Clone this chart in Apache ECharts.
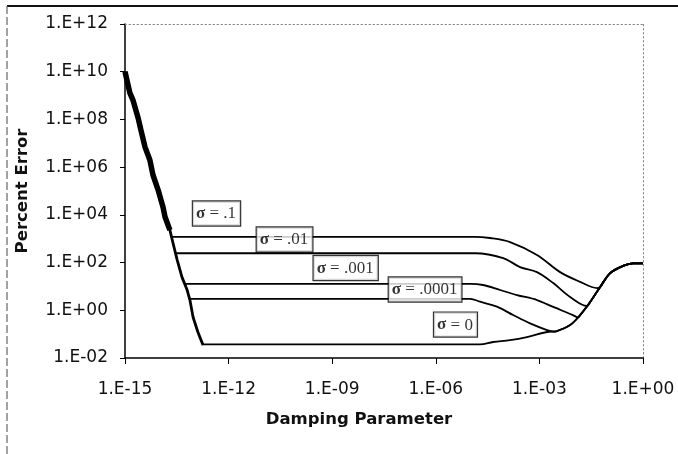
<!DOCTYPE html>
<html><head><meta charset="utf-8">
<script src="https://cdn.jsdelivr.net/npm/echarts@6/dist/echarts.min.js"></script>
<style>html,body{margin:0;padding:0;background:#fff}#c{width:678px;height:454px}</style>
</head><body><div id="c"></div>
<script>
// All values are log10 of the plotted quantities (Damping Parameter, Percent Error)
const xAxisTitle = 'Damping Parameter';
const yAxisTitle = 'Percent Error';

// common noisy descent
const descentX = [-15, -14.86, -14.77, -14.62, -14.54, -14.42, -14.28, -14.19, -14.04, -13.90, -13.84, -13.70, -13.61, -13.49, -13.35, -13.20, -13.12, -13.03, -12.89, -12.74];
const descentY = [10.0, 9.11, 8.81, 8.06, 7.56, 6.84, 6.30, 5.67, 5.04, 4.33, 3.91, 3.36, 2.82, 2.11, 1.39, 0.85, 0.43, -0.28, -0.91, -1.46];

// common rising tail (sigma = 0 after its plateau)
const riseX = [-4.72, -4.34, -3.85, -3.36, -2.78, -2.49, -2.11, -1.82, -1.53, -1.24, -0.95, -0.58, -0.29, 0];
const riseY = [-1.43, -1.33, -1.25, -1.12, -0.91, -0.87, -0.62, -0.20, 0.35, 0.98, 1.56, 1.86, 1.97, 1.97];

// individual parts up to the point where each curve joins the rising tail
const s1X = [-13.64, -4.90, -4.43, -3.85, -3.07, -2.40, -1.82, -1.33];
const s1Y = [3.08, 3.08, 3.03, 2.86, 2.32, 1.60, 1.19, 0.93];
const s2X = [-13.52, -4.86, -4.05, -3.56, -3.07, -2.60, -2.11, -1.62];
const s2Y = [2.39, 2.39, 2.19, 1.81, 1.60, 1.14, 0.56, 0.18];
const s3X = [-13.25, -5.0, -4.63, -4.14, -3.65, -3.07, -2.60, -2.03, -1.88];
const s3Y = [1.11, 1.11, 1.06, 0.85, 0.64, 0.43, 0.14, -0.20, -0.30];
const s4X = [-13.10, -5.0, -4.72, -4.23, -3.76, -3.27, -2.78, -2.60];
const s4Y = [0.48, 0.48, 0.36, 0.15, -0.20, -0.55, -0.83, -0.89];
const s0X = [-12.74];
const s0Y = [-1.43];

const labelValues = ['.1', '.01', '.001', '.0001', '0'];
const labelX = [-12.35, -10.38, -8.61, -6.31, -5.43];
const labelY = [4.06, 2.97, 1.77, 0.87, -0.60];

const P = v => Math.pow(10, v);
function build(ownX, ownY) {
  const pts = ownX.map((x, i) => [P(x), P(ownY[i])]);
  const last = ownX[ownX.length - 1];
  riseX.forEach((x, i) => { if (x > last + 1e-9) pts.push([P(x), P(riseY[i])]); });
  return pts;
}
function fmt(v) {
  const e = Math.round(Math.log10(v));
  return '1.E' + (e < 0 ? '-' : '+') + String(Math.abs(e)).padStart(2, '0');
}

const lineColor = '#000';
const curve = (name, data) => ({
  name, type: 'line', data, showSymbol: false, smooth: 0.35,
  lineStyle: { color: lineColor, width: 1.8 }, z: 3
});

const chart = echarts.init(document.getElementById('c'));
const font = 'DejaVu Sans, Arial, sans-serif';
const serif = 'Liberation Serif, Times New Roman, serif';
chart.setOption({
  animation: false,
  backgroundColor: '#fff',
  grid: { left: 125, right: 35, top: 24, bottom: 96, outerBoundsMode: 'none' },
  xAxis: [{
    type: 'log', logBase: 10, min: 1e-15, max: 1, interval: 3,
    name: xAxisTitle, nameLocation: 'middle', nameGap: 53,
    nameTextStyle: { fontFamily: font, fontWeight: 'bold', fontSize: 16.5, color: '#111', padding: [0, 50, 0, 0] },
    axisLine: { lineStyle: { color: '#000', width: 1.5 } },
    axisTick: { show: true, length: 6, lineStyle: { color: '#000' } },
    axisLabel: { formatter: fmt, fontFamily: font, fontSize: 17, color: '#111', margin: 23 },
    splitLine: { show: false }, minorTick: { show: false }
  }, {
    type: 'log', logBase: 10, min: 1e-15, max: 1, position: 'top',
    axisLine: { lineStyle: { color: '#888', type: [1.5, 2.5], width: 1 } },
    axisTick: { show: false }, axisLabel: { show: false }, splitLine: { show: false }
  }],
  yAxis: [{
    type: 'log', logBase: 10, min: 1e-2, max: 1e12, interval: 2,
    name: yAxisTitle, nameLocation: 'middle', nameGap: 94, nameRotate: 90,
    nameTextStyle: { fontFamily: font, fontWeight: 'bold', fontSize: 16.5, color: '#111' },
    axisLine: { show: true, lineStyle: { color: '#000', width: 1.5 } },
    axisTick: { show: true, length: 5, lineStyle: { color: '#000' } },
    axisLabel: { formatter: fmt, fontFamily: font, fontSize: 17, color: '#111', margin: 17 },
    splitLine: { show: false }, minorTick: { show: false }
  }, {
    type: 'log', logBase: 10, min: 1e-2, max: 1e12, position: 'right',
    axisLine: { show: true, lineStyle: { color: '#888', type: [1.5, 2.5], width: 1 } },
    axisTick: { show: false }, axisLabel: { show: false }, splitLine: { show: false }
  }],
  graphic: [
    { type: 'line', shape: { x1: 7, y1: 6, x2: 678, y2: 6 }, style: { stroke: '#111', lineWidth: 2 } },
    { type: 'line', shape: { x1: 7, y1: 6, x2: 7, y2: 454 }, style: { stroke: '#666', lineWidth: 1.2, lineDash: [8, 3] } }
  ],
  series: [
    { name: 'descent', type: 'line', showSymbol: false, data: descentX.map((x, i) => [P(x), P(descentY[i])]), lineStyle: { color: lineColor, width: 2.8 }, z: 4 },
    { name: 'descentBand', type: 'line', showSymbol: false, data: descentX.slice(0, 12).map((x, i) => [P(x), P(descentY[i])]), lineStyle: { color: lineColor, width: 5.5 }, z: 4 },
    curve('σ = .1', build(s1X, s1Y)),
    curve('σ = .01', build(s2X, s2Y)),
    curve('σ = .001', build(s3X, s3Y)),
    curve('σ = .0001', build(s4X, s4Y)),
    curve('σ = 0', build(s0X, s0Y)),
    {
      name: 'labels', type: 'scatter', symbolSize: 0, z: 10,
      data: labelX.map((x, i) => ({ value: [P(x), P(labelY[i])], v: labelValues[i] })),
      label: {
        show: true, position: 'inside',
        formatter: p => '{s|σ} {t|= ' + p.data.v + '}',
        rich: {
          s: { fontFamily: serif, fontSize: 17, fontWeight: 'bold', color: '#000' },
          t: { fontFamily: serif, fontSize: 17, color: '#000' }
        },
        fontFamily: serif, fontSize: 17, color: '#000',
        backgroundColor: '#fff', borderColor: '#000', borderWidth: 1.2, padding: [4, 4, 3, 3]
      }
    }
  ]
});
</script></body></html>
